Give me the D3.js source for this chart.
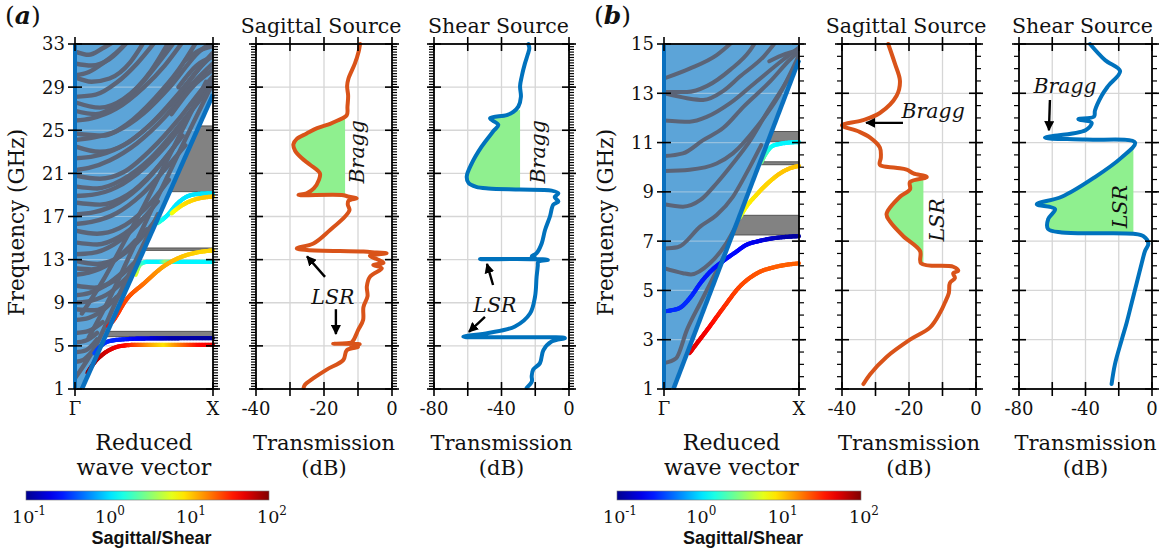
<!DOCTYPE html>
<html>
<head>
<meta charset="utf-8">
<script src="https://cdn.jsdelivr.net/npm/d3@7"></script>
<style>
  body { margin: 0; background: #fff; }
  svg text { font-family: "DejaVu Serif", serif; fill: #111; }
</style>
</head>
<body>
<svg id="fig" width="1166" height="551"></svg>
<script>
// ---------------- tick values ----------------
const freqTicksA = [1, 5, 9, 13, 17, 21, 25, 29, 33];
const freqTicksB = [1, 3, 5, 7, 9, 11, 13, 15];
const sagTicks = [-40, -30, -20, -10, 0];
const sagLabels = [-40, -20, 0];
const shearTicks = [-80, -60, -40, -20, 0];
const shearLabels = [-80, -40, 0];
const kTickLabels = ["Γ", "X"];
const colorbarExponents = [-1, 0, 1, 2];

// ---------------- band structure (a) ----------------
// light line: [k, f] at its two ends
const coneA = [[0.05, 1], [1, 28.3]];
// band gaps [fLow, fHigh] in GHz
const gapsA = [[5.85, 6.35], [13.86, 14.08], [19.3, 25.4]];
// bulk (leaky) branches inside the sound cone, [k, f]
const grayA = [
  [[0, 32.3], [0.1, 32.0], [0.2, 32.6], [0.28, 33.2]],
  [[0, 31.2], [0.12, 31.0], [0.25, 31.6], [0.38, 33.2]],
  [[0, 30.1], [0.1, 30.4], [0.2, 31.2], [0.3, 32.2], [0.38, 33.2]],
  [[0, 29.9], [0.12, 29.5], [0.25, 29.8], [0.4, 31.3], [0.5, 33.2]],
  [[0, 28.1], [0.15, 28.3], [0.3, 29.4], [0.45, 31.2], [0.58, 33.2]],
  [[0, 27.6], [0.18, 27.1], [0.35, 27.9], [0.55, 30.5], [0.68, 33.2]],
  [[0, 26.8], [0.15, 26.5], [0.3, 27.3], [0.5, 29.6], [0.62, 31.5], [0.72, 33.2]],
  [[0, 25.9], [0.12, 26.1], [0.3, 27.0], [0.5, 29.0], [0.65, 31.0], [0.78, 33.2]],
  [[0, 24.7], [0.2, 24.5], [0.38, 25.6], [0.58, 28.0], [0.75, 30.6], [0.88, 33.2]],
  [[0, 24.1], [0.12, 24.3], [0.3, 24.9], [0.5, 26.6], [0.7, 29.2], [0.9, 32.3], [1, 33.2]],
  [[0, 23.5], [0.18, 23.0], [0.35, 23.6], [0.55, 25.6], [0.75, 28.4], [0.95, 31.5], [1, 32.2]],
  [[0, 22.4], [0.14, 22.6], [0.32, 23.4], [0.52, 25.2], [0.72, 27.8], [0.92, 31.0], [1, 32.0]],
  [[0, 21.3], [0.1, 21.5], [0.25, 22.2], [0.45, 23.8], [0.65, 26.2], [0.85, 29.3], [1, 31.2]],
  [[0, 20.8], [0.18, 20.5], [0.35, 21.1], [0.55, 23.2], [0.75, 26.0], [0.92, 28.8], [1, 30.0]],
  [[0, 19.8], [0.16, 19.6], [0.34, 20.4], [0.54, 22.3], [0.74, 25.2], [0.94, 28.6], [1, 29.8]],
  [[0, 18.9], [0.12, 19.0], [0.3, 19.7], [0.5, 21.5], [0.7, 24.2], [0.88, 27.4], [1, 29.2]],
  [[0, 18.3], [0.18, 18.1], [0.38, 19.0], [0.58, 21.3], [0.78, 24.5]],
  [[0, 17.2], [0.14, 17.4], [0.32, 18.3], [0.52, 20.4], [0.72, 23.5]],
  [[0, 16.3], [0.12, 16.5], [0.3, 17.3], [0.48, 19.0], [0.66, 21.5], [0.8, 23.6]],
  [[0, 15.7], [0.16, 15.4], [0.32, 15.9], [0.5, 17.6], [0.68, 20.4]],
  [[0, 14.6], [0.16, 14.4], [0.32, 15.1], [0.5, 16.9]],
  [[0, 13.5], [0.12, 13.6], [0.28, 14.4], [0.45, 16.2], [0.6, 18.4]],
  [[0, 12.9], [0.16, 12.6], [0.3, 13.1], [0.45, 14.6], [0.58, 16.6]],
  [[0, 12.2], [0.12, 12.1], [0.28, 12.9], [0.44, 14.8]],
  [[0, 11.6], [0.1, 11.8], [0.25, 12.6], [0.4, 14.2], [0.52, 15.8]],
  [[0, 10.6], [0.14, 10.4], [0.28, 11.0], [0.42, 12.6]],
  [[0, 9.7], [0.1, 9.9], [0.22, 10.6], [0.36, 12.0]],
  [[0, 9.0], [0.12, 9.2], [0.26, 10.0], [0.38, 11.4]],
  [[0, 8.4], [0.14, 8.3], [0.26, 9.0], [0.36, 10.3]],
  [[0, 7.4], [0.1, 7.6], [0.2, 8.3], [0.3, 9.5]],
  [[0, 6.2], [0.1, 6.4], [0.2, 7.2]],
  [[0, 5.3], [0.08, 5.5], [0.16, 6.2]],
  [[0, 4.4], [0.08, 4.6], [0.16, 5.6]],
  [[0, 3.5], [0.06, 3.7], [0.12, 4.4]],
  [[0, 2.0], [0.15, 5.0], [0.3, 9.2], [0.45, 13.2], [0.6, 17.2]],
  [[0.05, 8.0], [0.2, 11.0], [0.35, 14.5], [0.5, 18.0], [0.65, 21.8], [0.8, 25.6], [0.95, 29.5]],
  [[0.1, 5.8], [0.25, 9.4], [0.4, 13.5], [0.55, 17.5], [0.7, 21.5], [0.85, 25.5], [1, 29.4]],
  [[0.7, 26.5], [0.85, 29.0], [1, 30.6]],
  [[0.75, 29.0], [0.88, 31.0], [1, 31.8]],
  [[0.8, 31.5], [0.9, 32.4], [1, 32.8]]
];
// surface branches: [k, f, log10(sagittal/shear)]
const redA = [[0.09, 2.5, 1.95], [0.15, 3.6, 1.9], [0.2, 4.2, 1.8], [0.28, 4.8, 1.7], [0.37, 5.05, 1.6],
  [0.45, 5.1, 1.4], [0.55, 5.1, 1.15], [0.65, 5.1, 0.95], [0.72, 5.1, 1.15], [0.8, 5.1, 1.35], [0.9, 5.1, 1.6], [1, 5.1, 1.65]];
const blueA = [[0.14, 4.3, -0.4], [0.18, 4.9, -0.45], [0.25, 5.45, -0.5], [0.37, 5.62, -0.55],
  [0.5, 5.68, -0.7], [0.7, 5.7, -0.9], [1, 5.72, -0.95]];
const orangeA = [[0.24, 6.8, 1.6], [0.28, 7.4, 1.5], [0.37, 9.25, 1.42], [0.5, 10.8, 1.3],
  [0.64, 12.35, 1.15], [0.78, 13.3, 1.05], [0.9, 13.7, 1.0], [1, 13.85, 1.0]];
const cyanLowA = [[0.44, 11.6, 0.8], [0.46, 12.3, 0.6], [0.49, 12.7, 0.3], [0.53, 12.8, 0.1],
  [0.62, 12.8, 0.1], [0.66, 12.8, 0.6], [0.7, 12.8, 0.2], [0.76, 12.8, 0.1], [1, 12.8, 0.1]];
const cyanUpA = [[0.6, 16.4, 0.3], [0.66, 17.0, 0.1], [0.75, 18.3, 0.05], [0.82, 18.9, 0.05],
  [0.9, 19.1, 0.05], [1, 19.15, 0.05]];
const yellowUpA = [[0.7, 17.3, 0.8], [0.76, 17.9, 0.95], [0.85, 18.5, 1.0], [0.93, 18.75, 1.05], [1, 18.85, 1.05]];

// ---------------- band structure (b) ----------------
const coneB = [[0.07, 1], [1, 14.35]];
const gapsB = [[7.25, 8.05], [10.1, 10.22], [11.05, 11.45]];
const grayB = [
  [[0, 13.6], [0.19, 14.0], [0.39, 14.55], [0.51, 15.1]],
  [[0, 13.05], [0.17, 13.05], [0.32, 13.3], [0.49, 13.95], [0.64, 14.76], [0.68, 15.1]],
  [[0, 13.0], [0.17, 12.8], [0.29, 12.73], [0.44, 13.1], [0.56, 13.67], [0.74, 14.5], [0.83, 15.1]],
  [[0, 11.9], [0.19, 11.85], [0.32, 12.05], [0.49, 12.6], [0.69, 13.5], [0.88, 14.35], [1, 14.85]],
  [[0, 10.45], [0.14, 10.56], [0.29, 11.1], [0.44, 11.6], [0.59, 12.46], [0.79, 13.5], [0.93, 14.35], [1, 14.7]],
  [[0, 9.85], [0.19, 9.9], [0.39, 10.15], [0.51, 10.56], [0.69, 11.65], [0.85, 12.9], [1, 14.55]],
  [[0, 8.5], [0.14, 8.4], [0.27, 8.67], [0.39, 9.35], [0.51, 10.15], [0.64, 11.1], [0.76, 12.2], [0.91, 13.5], [1, 14.4]],
  [[0, 6.7], [0.1, 6.75], [0.27, 7.6], [0.39, 8.06], [0.51, 8.8], [0.61, 9.75], [0.72, 10.9]],
  [[0, 5.9], [0.14, 5.7], [0.2, 5.65], [0.34, 6.1], [0.46, 6.9], [0.56, 7.9]],
  [[0, 2.05], [0.09, 2.25], [0.17, 3.4], [0.27, 4.5], [0.39, 5.8], [0.51, 7.1], [0.64, 8.6], [0.76, 10.0], [0.88, 11.8]],
  [[0.78, 14.3], [0.9, 14.6], [1, 14.75]]
];
const redB = [[0.19, 2.46, 1.7], [0.25, 2.9, 1.7], [0.32, 3.4, 1.65], [0.44, 4.3, 1.5], [0.56, 5.15, 1.42],
  [0.69, 5.7, 1.38], [0.83, 5.96, 1.35], [1, 6.1, 1.35]];
const blueB = [[0, 4.15, -0.5], [0.06, 4.2, -0.5], [0.12, 4.3, -0.5], [0.2, 4.75, -0.5], [0.27, 5.3, -0.55],
  [0.35, 5.8, -0.55], [0.44, 6.2, -0.6], [0.53, 6.55, -0.6], [0.61, 6.85, -0.65], [0.7, 7.0, -0.7],
  [0.79, 7.1, -0.8], [0.9, 7.17, -0.9], [1, 7.2, -0.95]];
const yellowB = [[0.56, 7.95, 0.7], [0.61, 8.4, 0.9], [0.68, 8.85, 0.95], [0.74, 9.2, 1.0], [0.8, 9.5, 1.0],
  [0.86, 9.75, 1.05], [0.93, 9.95, 1.05], [1, 10.05, 1.05]];
const cyanB = [[0.72, 10.2, 0.5], [0.76, 10.6, 0.3], [0.8, 10.85, 0.15], [0.86, 10.95, 0.1], [0.93, 11.0, 0.1], [1, 11.02, 0.1]];

// ---------------- transmission spectra: [dB, f(GHz)] ----------------
const sagA = [[-9.4, 33], [-9.8, 32.3], [-10.9, 31.2], [-12.8, 29.8], [-13.2, 29.1], [-12.9, 28.2], [-13.1, 27.2],
  [-13.3, 26.4], [-16, 25.9], [-18.2, 25.6], [-22, 25.2], [-25.1, 24.7], [-28, 24.2], [-29, 23.7], [-28.5, 23.1],
  [-26.5, 22.4], [-24.1, 21.8], [-21.2, 21.0], [-21.5, 20.4], [-23, 19.6], [-25.1, 19.15], [-27.5, 19.0],
  [-14.3, 18.98], [-13, 18.85], [-10.4, 18.7], [-12.8, 18.45], [-13, 18.1], [-12.5, 17.6], [-13.8, 17.0],
  [-18.2, 15.75], [-23.1, 14.5], [-28, 14.05], [-25, 13.9], [-8.4, 13.75], [-4.5, 13.65], [-1.6, 13.6],
  [-6.5, 13.35], [-4.5, 13.05], [-2.5, 12.7], [-5.5, 12.5], [-3, 12.2], [-6.5, 11.4], [-7.4, 10.5], [-7.2, 9.6],
  [-8.4, 8.6], [-8.5, 7.4], [-9.9, 6.5], [-11.4, 5.5], [-12, 5.3], [-17.3, 5.2], [-9.5, 5.15], [-12, 5.0],
  [-10, 4.9], [-13.3, 4.6], [-14.3, 3.7], [-19.2, 2.8], [-23.1, 2.0], [-25.6, 1.4], [-26, 1.1]];
const shearA = [[-24.1, 33], [-23.5, 32.6], [-24.5, 32], [-26.1, 31.2], [-28, 30], [-29, 29.1], [-28.5, 28.1],
  [-30, 27.2], [-33, 26.7], [-36.9, 26.4], [-46.8, 26.1], [-41.9, 25.5], [-44.9, 24.9], [-51.7, 23.5],
  [-57.7, 21.9], [-60.6, 20.7], [-59.5, 20.1], [-55, 19.75], [-47.8, 19.6], [-29, 19.5], [-10.3, 19.4],
  [-6.3, 19.15], [-8.5, 18.8], [-6.3, 18.4], [-9.3, 18.1], [-11.3, 17.0], [-14.2, 15.75], [-16.2, 14.5],
  [-19.2, 13.6], [-22.1, 13.3], [-20, 13.15], [-52.7, 13.05], [-12.5, 12.98], [-18.2, 12.8], [-18.5, 12.4],
  [-19.2, 11.4], [-20.1, 9.6], [-23.1, 8.0], [-32, 6.8], [-47.8, 6.2], [-62.6, 5.85], [-30, 5.8], [-2.4, 5.72],
  [-10.3, 5.4], [-15.2, 4.6], [-17.2, 3.4], [-21.2, 2.8], [-22.1, 2.2], [-22, 1.7], [-25.1, 1.1]];
const sagB = [[-26.2, 15], [-24.2, 14.2], [-22.7, 13.5], [-23.7, 12.9], [-28.7, 12.2], [-34, 11.9], [-40, 11.7],
  [-35, 11.45], [-31.6, 11.2], [-28.7, 10.8], [-28.4, 10.4], [-28.7, 10.1], [-24, 9.98], [-20.7, 9.9],
  [-18.7, 9.75], [-14.7, 9.6], [-19.7, 9.4], [-19.7, 9.1], [-22.7, 8.8], [-26.7, 8.1], [-25.7, 7.8],
  [-21.7, 7.2], [-16.7, 6.6], [-16.4, 6.1], [-6.8, 5.96], [-5.3, 5.8], [-6.8, 5.7], [-6.3, 5.5], [-7.8, 5.3],
  [-8.1, 4.9], [-9.3, 4.5], [-10.7, 4.1], [-13.7, 3.5], [-19.7, 3.0], [-26.7, 2.3], [-31.6, 1.6], [-33.6, 1.2]];
const shearB = [[-37.3, 15], [-28.3, 14.35], [-19.2, 13.9], [-26.3, 13.3], [-30.3, 12.9], [-34.3, 12.3],
  [-34.9, 12.05], [-44.3, 11.95], [-36.3, 11.8], [-40, 11.5], [-64.4, 11.2], [-40, 11.12], [-10.2, 11.0],
  [-18.2, 10.4], [-34.3, 9.6], [-54.3, 8.8], [-69.3, 8.5], [-58.3, 8.3], [-62.4, 7.9], [-62.6, 7.5],
  [-54.3, 7.35], [-11.2, 7.3], [-5.2, 7.2], [-2.2, 6.9], [-4.2, 6.6], [-6.2, 6.1], [-9.2, 5.3], [-12.2, 4.5],
  [-15.2, 3.7], [-18.2, 3.0], [-22.3, 2.0], [-24.3, 1.2]];
// shaded stop bands: [edge dB, fLow, fHigh]
const braggSagA = [-13.8, 19.0, 26.4];
const braggShearA = [-29, 19.5, 26.9];
const lsrSagB = [-15.7, 6.1, 9.6];
const lsrShearB = [-11.2, 7.3, 10.9];

// ---------------- layout ----------------
const TOP = 44, BOT = 389;
const svg = d3.select("#fig");
const defs = svg.append("defs");
defs.append("marker").attr("id", "arrow").attr("viewBox", "0 0 10 10")
  .attr("refX", 9).attr("refY", 5).attr("markerWidth", 4.2).attr("markerHeight", 4.2)
  .attr("orient", "auto-start-reverse")
  .append("path").attr("d", "M0,0L10,5L0,10Z").attr("fill", "#000");

const jetScale = d3.scaleLinear()
  .domain([0, 0.125, 0.375, 0.625, 0.875, 1])
  .range(["#00008f", "#0000ff", "#00ffff", "#ffff00", "#ff0000", "#800000"])
  .interpolate(d3.interpolateRgb).clamp(true);
const jet = c => jetScale((c + 1) / 3);

const GRID = "#d6d6d6";

function verticalTicks(g, xPos, y, majors, minorStep, dir, withMinor) {
  const [f0, f1] = y.domain();
  if (withMinor) {
    const n = Math.round((f1 - f0) / minorStep);
    g.append("g").selectAll("line").data(d3.range(n + 1).map(i => f0 + i * minorStep)).join("line")
      .attr("x1", xPos).attr("x2", xPos + dir * 5)
      .attr("y1", d => y(d)).attr("y2", d => y(d))
      .attr("stroke", "#000").attr("stroke-width", 1.2);
  }
  g.append("g").selectAll("line").data(majors).join("line")
    .attr("x1", xPos - 7).attr("x2", xPos + 7)
    .attr("y1", d => y(d)).attr("y2", d => y(d))
    .attr("stroke", "#000").attr("stroke-width", 1.6);
}
function horizontalTicks(g, x, yPos, ticks) {
  g.append("g").selectAll("line").data(ticks).join("line")
    .attr("x1", d => x(d)).attr("x2", d => x(d))
    .attr("y1", yPos - 7).attr("y2", yPos + 7)
    .attr("stroke", "#000").attr("stroke-width", 1.6);
}
function frame(g, x0, x1) {
  g.append("rect").attr("x", x0).attr("y", TOP).attr("width", x1 - x0).attr("height", BOT - TOP)
    .attr("fill", "none").attr("stroke", "#000").attr("stroke-width", 1.8);
}

function drawColored(g, pts, x, y) {
  const line = d3.line().x(d => x(d[0])).y(d => y(d[1])).curve(d3.curveMonotoneX);
  const tmp = g.append("path").attr("d", line(pts)).attr("fill", "none");
  const node = tmp.node();
  const L = node.getTotalLength();
  const n = Math.max(10, Math.ceil(L / 1.5));
  const s = d3.range(n + 1).map(i => node.getPointAtLength(L * i / n));
  tmp.remove();
  const cAt = d3.scaleLinear().domain(pts.map(d => d[0])).range(pts.map(d => d[2])).clamp(true);
  const seg = g.append("g");
  for (let i = 0; i < n; i++) {
    const a = s[i], b = s[i + 1];
    seg.append("line").attr("x1", a.x).attr("y1", a.y).attr("x2", b.x).attr("y2", b.y)
      .attr("stroke", jet(cAt(x.invert((a.x + b.x) / 2))))
      .attr("stroke-width", 4.2).attr("stroke-linecap", "round");
  }
}

function bandPanel(p) {
  const x = d3.scaleLinear().domain([0, 1]).range([p.x0, p.x1]);
  const y = d3.scaleLinear().domain(p.fDomain).range([BOT, TOP]);
  const g = svg.append("g");
  const [fMin, fMax] = p.fDomain;

  g.append("g").selectAll("line").data(p.majors).join("line")
    .attr("x1", p.x0).attr("x2", p.x1).attr("y1", d => y(d)).attr("y2", d => y(d))
    .attr("stroke", GRID).attr("stroke-width", 1.3);

  g.append("g").selectAll("rect").data(p.gaps).join("rect")
    .attr("x", p.x0).attr("width", p.x1 - p.x0)
    .attr("y", d => y(d[1])).attr("height", d => y(d[0]) - y(d[1]))
    .attr("fill", "#828282").attr("stroke", "#4a4a4a").attr("stroke-width", 0.9);

  const [c0, c1] = p.cone;
  const poly = [[0, fMin], c0, c1, [1, fMax], [0, fMax]].map(d => [x(d[0]), y(d[1])]);
  const polyD = "M" + poly.join("L") + "Z";
  g.append("path").attr("d", polyD).attr("fill", "#5ca4d8");
  defs.append("clipPath").attr("id", "cone" + p.name).append("path").attr("d", polyD);

  g.append("g").selectAll("line").data(p.majors).join("line")
    .attr("x1", p.x0).attr("x2", p.x1).attr("y1", d => y(d)).attr("y2", d => y(d))
    .attr("stroke", "#c8d8e6").attr("stroke-opacity", 0.55).attr("stroke-width", 1.2)
    .attr("clip-path", `url(#cone${p.name})`);

  const grayLine = d3.line().x(d => x(d[0])).y(d => y(d[1])).curve(d3.curveMonotoneX);
  g.append("g").attr("clip-path", `url(#cone${p.name})`)
    .selectAll("path").data(p.gray).join("path")
    .attr("d", grayLine).attr("fill", "none").attr("stroke", "#5b6477")
    .attr("stroke-width", p.grayWidth).attr("stroke-linecap", "round");

  p.colored.forEach(c => drawColored(g, c, x, y));

  g.append("line").attr("x1", x(c0[0])).attr("y1", y(c0[1])).attr("x2", x(c1[0])).attr("y2", y(c1[1]))
    .attr("stroke", "#0a70bf").attr("stroke-width", 4.5).attr("stroke-linecap", "butt");

  frame(g, p.x0, p.x1);
  g.append("line").attr("x1", x(0)).attr("x2", x(0)).attr("y1", TOP).attr("y2", BOT)
    .attr("stroke", "#0a70bf").attr("stroke-width", 4);

  verticalTicks(g, p.x0, y, p.majors, p.minorStep, -1, false);
  verticalTicks(g, p.x1, y, p.majors, p.minorStep, 1, true);
  horizontalTicks(g, x, BOT, [0, 1]);
  horizontalTicks(g, x, TOP, [0, 1]);

  g.append("g").selectAll("text").data(p.majors).join("text")
    .attr("x", p.x0 - 10).attr("y", d => y(d)).attr("dy", "0.36em")
    .attr("text-anchor", "end").attr("font-size", 18).text(d => d);
  g.append("g").selectAll("text").data(kTickLabels).join("text")
    .attr("x", (d, i) => x(i)).attr("y", 415).attr("text-anchor", "middle")
    .attr("font-size", 18).text(d => d);

  g.append("text").attr("transform", `translate(${p.x0 - 51},${(TOP + BOT) / 2 + 6}) rotate(-90)`)
    .attr("text-anchor", "middle").attr("font-size", 21.5).text("Frequency (GHz)");
  const cx = (p.x0 + p.x1) / 2;
  g.append("text").attr("x", cx).attr("y", 450).attr("text-anchor", "middle").attr("font-size", 22).text("Reduced");
  g.append("text").attr("x", cx).attr("y", 475).attr("text-anchor", "middle").attr("font-size", 22).text("wave vector");

  const lab = g.append("text").attr("x", p.x0 - 70).attr("y", 24).attr("font-size", 25);
  lab.append("tspan").text("(");
  lab.append("tspan").attr("font-weight", "bold").attr("font-style", "italic").text(p.name);
  lab.append("tspan").text(")");
}

function transPanel(p) {
  const x = d3.scaleLinear().domain([p.ticks[0], 0]).range([p.x0, p.x1]);
  const y = d3.scaleLinear().domain(p.fDomain).range([BOT, TOP]);
  const g = svg.append("g");

  g.append("g").selectAll("line").data(p.majors.slice(1, -1)).join("line")
    .attr("x1", p.x0).attr("x2", p.x1).attr("y1", d => y(d)).attr("y2", d => y(d))
    .attr("stroke", GRID).attr("stroke-width", 1.3);
  g.append("g").selectAll("line").data(p.ticks.slice(1, -1)).join("line")
    .attr("x1", d => x(d)).attr("x2", d => x(d)).attr("y1", TOP).attr("y2", BOT)
    .attr("stroke", GRID).attr("stroke-width", 1.3);

  const curve = d3.line().x(d => x(d[0])).y(d => y(d[1])).curve(d3.curveCatmullRom.alpha(0.5));
  const [edge, fLo, fHi] = p.band;
  const inside = p.data.filter(d => d[1] >= fLo && d[1] <= fHi);
  g.append("path")
    .attr("d", curve(inside) + `L${x(edge)},${y(fLo)}L${x(edge)},${y(fHi)}Z`)
    .attr("fill", "#8ff08f");

  g.append("path").attr("d", curve(p.data)).attr("fill", "none")
    .attr("stroke", p.color).attr("stroke-width", 4).attr("stroke-linejoin", "round").attr("stroke-linecap", "round");

  frame(g, p.x0, p.x1);
  verticalTicks(g, p.x0, y, p.majors, p.minorStep, -1, true);
  verticalTicks(g, p.x1, y, p.majors, p.minorStep, 1, true);
  horizontalTicks(g, x, BOT, p.ticks);
  horizontalTicks(g, x, TOP, p.ticks);

  g.append("g").selectAll("text").data(p.labels).join("text")
    .attr("x", d => x(d)).attr("y", 415).attr("text-anchor", "middle").attr("font-size", 18).text(d => d);
  const cx = (p.x0 + p.x1) / 2;
  g.append("text").attr("x", cx).attr("y", 450).attr("text-anchor", "middle").attr("font-size", 21).text("Transmission");
  g.append("text").attr("x", cx).attr("y", 475).attr("text-anchor", "middle").attr("font-size", 21).text("(dB)");
  g.append("text").attr("x", cx - 3).attr("y", 33).attr("text-anchor", "middle").attr("font-size", 20.5).text(p.title);

  p.notes.forEach(n => {
    g.append("text")
      .attr("transform", `translate(${x(n.at[0])},${y(n.at[1])})` + (n.rotate ? " rotate(-90)" : ""))
      .attr("text-anchor", "middle").attr("dominant-baseline", "central")
      .attr("font-style", "italic").attr("font-size", 20.5).text(n.text);
  });
  p.arrows.forEach(a => {
    g.append("line").attr("x1", x(a[0][0])).attr("y1", y(a[0][1])).attr("x2", x(a[1][0])).attr("y2", y(a[1][1]))
      .attr("stroke", "#000").attr("stroke-width", 2.4).attr("marker-end", "url(#arrow)");
  });
}

function colorbar(x0, x1) {
  const id = "jet" + Math.round(x0);
  const grad = defs.append("linearGradient").attr("id", id);
  d3.range(0, 1.0001, 0.05).forEach(t => grad.append("stop").attr("offset", t).attr("stop-color", jetScale(t)));
  const cb = d3.scaleLinear().domain([-1, 2]).range([x0, x1]);
  const g = svg.append("g");
  g.append("rect").attr("x", x0).attr("y", 491).attr("width", x1 - x0).attr("height", 9)
    .attr("fill", `url(#${id})`).attr("stroke", "#777").attr("stroke-width", 0.6);
  const t = g.append("g").selectAll("text").data(colorbarExponents).join("text")
    .attr("x", d => cb(d) + 3).attr("y", 523).attr("text-anchor", "middle").attr("font-size", 17.5);
  t.append("tspan").text("10");
  t.append("tspan").attr("dy", -8).attr("font-size", 12).text(d => d);
  g.append("text").attr("x", (x0 + x1) / 2 + 4).attr("y", 544).attr("text-anchor", "middle")
    .style("font-family", "'Liberation Sans', Arial, sans-serif").style("font-size", "18px")
    .attr("font-weight", "bold").text("Sagittal/Shear");
}

// ---------------- panel (a) ----------------
bandPanel({ name: "a", x0: 75, x1: 213, fDomain: [1, 33], majors: freqTicksA, minorStep: 0.25, grayWidth: 4.4,
  cone: coneA, gaps: gapsA, gray: grayA, colored: [cyanLowA, cyanUpA, yellowUpA, blueA, redA, orangeA] });
transPanel({ title: "Sagittal Source", x0: 256, x1: 392, fDomain: [1, 33], majors: freqTicksA, minorStep: 0.25,
  ticks: sagTicks, labels: sagLabels, data: sagA, color: "#d95319", band: braggSagA,
  notes: [{ text: "Bragg", at: [-10.3, 23.0], rotate: true }, { text: "LSR", at: [-17.4, 9.5] }],
  arrows: [[[-19.7, 11.4], [-25.0, 13.3]], [[-16.5, 8.4], [-16.5, 6.1]]] });
transPanel({ title: "Shear Source", x0: 434, x1: 569, fDomain: [1, 33], majors: freqTicksA, minorStep: 0.25,
  ticks: shearTicks, labels: shearLabels, data: shearA, color: "#0072bd", band: braggShearA,
  notes: [{ text: "Bragg", at: [-18.4, 23.0], rotate: true }, { text: "LSR", at: [-43.9, 8.8] }],
  arrows: [[[-45, 10.65], [-48.6, 12.6]], [[-49.8, 7.7], [-59.3, 6.3]]] });

// ---------------- panel (b) ----------------
bandPanel({ name: "b", x0: 664, x1: 799, fDomain: [1, 15], majors: freqTicksB, minorStep: 0.5, grayWidth: 4,
  cone: coneB, gaps: gapsB, gray: grayB, colored: [cyanB, yellowB, redB, blueB] });
transPanel({ title: "Sagittal Source", x0: 842, x1: 976, fDomain: [1, 15], majors: freqTicksB, minorStep: 0.5,
  ticks: sagTicks, labels: sagLabels, data: sagB, color: "#d95319", band: lsrSagB,
  notes: [{ text: "Bragg", at: [-12.8, 12.3] }, { text: "LSR", at: [-11.6, 7.86], rotate: true }],
  arrows: [[[-21.8, 11.8], [-32.8, 11.8]]] });
transPanel({ title: "Shear Source", x0: 1019, x1: 1152, fDomain: [1, 15], majors: freqTicksB, minorStep: 0.5,
  ticks: shearTicks, labels: shearLabels, data: shearB, color: "#0072bd", band: lsrShearB,
  notes: [{ text: "Bragg", at: [-52.3, 13.3] }, { text: "LSR", at: [-19.2, 8.4], rotate: true }],
  arrows: [[[-61.4, 12.73], [-62, 11.5]]] });

colorbar(26, 269);
colorbar(617, 861);
</script>
</body>
</html>
